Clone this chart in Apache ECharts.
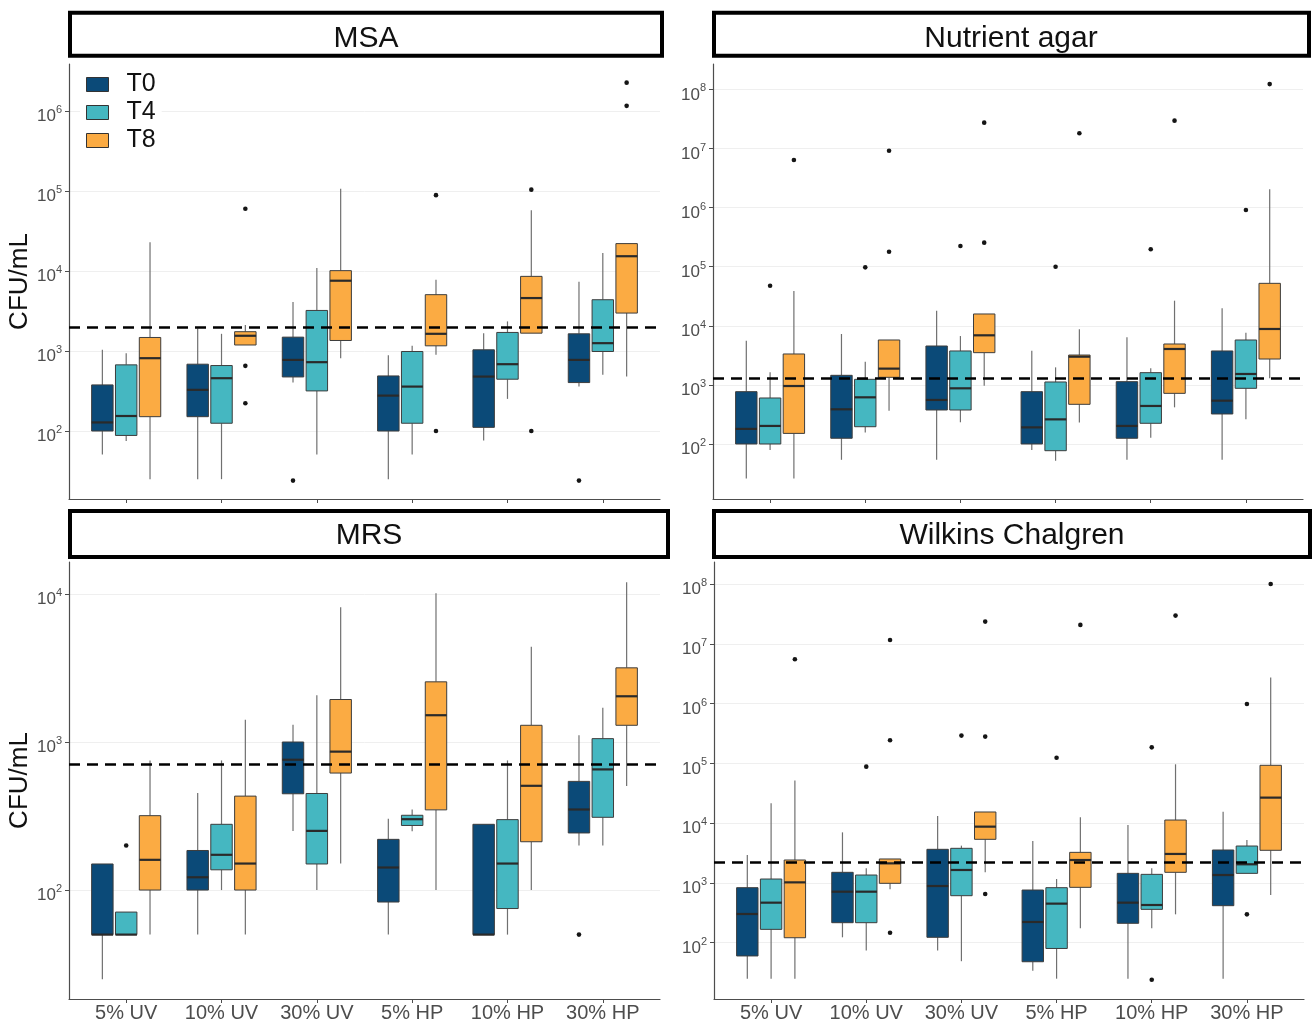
<!DOCTYPE html>
<html>
<head>
<meta charset="utf-8">
<title>CFU/mL by medium</title>
<script src="https://cdn.jsdelivr.net/npm/echarts@6.0.0/dist/echarts.min.js"></script>
<style>
    html, body { margin: 0; padding: 0; background: #fff; }
    #main { width: 1312px; height: 1024px; }
</style>
</head>
<body>
<div id="main"></div>
<script>
var categories = ['5% UV', '10% UV', '30% UV', '5% HP', '10% HP', '30% HP'];
var times = ['T0', 'T4', 'T8'];
var timeColors = ['#0b4a78', '#45b7c1', '#fbab43'];
var panelTitles = ['MSA', 'Nutrient agar', 'MRS', 'Wilkins Chalgren'];
var cutoffs = [2000, 1300, 700, 2200];

// decade exponents labelled on each y axis
var msaTicks = [2, 3, 4, 5, 6];
var nutTicks = [2, 3, 4, 5, 6, 7, 8];
var mrsTicks = [2, 3, 4];
var wilTicks = [2, 3, 4, 5, 6, 7, 8];

// boxes: [low whisker, Q1, median, Q3, high whisker] in CFU/mL, one per treatment
var msaT0 = [[51, 100, 128, 377, 1035], [25, 151, 327, 684, 1930], [403, 474, 774, 1490, 4090],
             [25, 100, 277, 488, 887], [76, 111, 479, 1035, 1671], [359, 403, 774, 1640, 7340]];
var msaT4 = [[75, 88, 154, 671, 940], [25, 125, 457, 658, 1640], [51, 317, 725, 3213, 10900],
             [51, 125, 359, 986, 1161], [252, 444, 684, 1706, 2344], [503, 986, 1253, 4375, 16800]];
var msaT8 = [[25, 151, 813, 1476, 22900], [1189, 1189, 1550, 1743, 2113], [813, 1353, 7560, 10100, 107000],
             [896, 1161, 1640, 5060, 7780], [1671, 1671, 4590, 8570, 57500], [479, 2980, 15300, 22000, 22000]];

var nutT0 = [[26, 100, 180, 768, 5600], [54, 125, 386, 1452, 7260], [54, 376, 556, 4550, 18000],
             [79, 100, 191, 768, 3790], [54, 125, 202, 1134, 6380], [54, 322, 541, 3750, 19800]];
var nutT4 = [[79, 100, 202, 600, 1633], [156, 196, 616, 1242, 2470], [233, 376, 875, 3750, 6710],
             [52, 77, 261, 1120, 1980], [128, 224, 440, 1610, 1907], [261, 875, 1529, 5750, 7660]];
var nutT8 = [[26, 151, 957, 3335, 38800], [366, 1343, 1884, 5750, 5750], [971, 3510, 6900, 15850, 15850],
             [230, 469, 3000, 3200, 8710], [417, 719, 4050, 4920, 26600], [1290, 2740, 8830, 52300, 2040000]];

var mrsT0 = [[25, 50, 50, 150, 150], [50, 100, 122, 185, 452], [251, 447, 759, 1000, 1310],
             [50, 83, 142, 220, 303], [50, 50, 50, 278, 278], [200, 243, 350, 542, 1110]];
var mrsT4 = [[50, 50, 50, 71, 71], [100, 137, 173, 278, 751], [100, 150, 251, 449, 2070],
             [250, 273, 301, 320, 350], [50, 75, 151, 299, 751], [200, 310, 653, 1054, 1706]];
var mrsT8 = [[50, 100, 160, 318, 751], [50, 100, 151, 431, 1416], [151, 617, 861, 1937, 8130],
             [100, 348, 1517, 2550, 10100], [100, 212, 506, 1297, 4400], [504, 1297, 2037, 3170, 12000]];

var wilT0 = [[25, 60, 302, 832, 2930], [123, 216, 713, 1503, 7010], [74, 123, 887, 3645, 13150],
             [34, 48, 222, 760, 5020], [25, 211, 467, 1445, 9310], [25, 416, 1355, 3550, 15570]];
var wilT4 = [[25, 167, 467, 1161, 21400], [74, 216, 713, 1355, 1754], [49, 611, 1645, 3790, 4200],
             [25, 80, 450, 832, 1161], [174, 361, 427, 1390, 1754], [1445, 1445, 2048, 4140, 5220]];
var wilT8 = [[25, 121, 1021, 2415, 51400], [780, 984, 2123, 2513, 2513], [1503, 5360, 8730, 15350, 15350],
             [174, 843, 2415, 3245, 12500], [298, 1503, 3050, 11270, 96400], [628, 3510, 26700, 92700, 2720000]];

// outliers: [treatment index, CFU/mL]
var msaOutT0 = [[2, 24], [5, 24]];
var msaOutT4 = [];
var msaOutT8 = [[1, 60000], [1, 652], [1, 222], [3, 88700], [3, 100], [4, 104000], [4, 100], [5, 2260000], [5, 1160000]];

var nutOutT0 = [];
var nutOutT4 = [[0, 47700], [1, 97500], [2, 224000], [3, 100000], [4, 197000], [5, 910000]];
var nutOutT8 = [[0, 6380000], [1, 9180000], [1, 179000], [2, 27400000], [2, 255000], [3, 18100000], [4, 29600000], [5, 123000000]];

var mrsOutT0 = [[5, 50]];
var mrsOutT4 = [[0, 200]];
var mrsOutT8 = [];

var wilOutT0 = [];
var wilOutT4 = [[1, 88100], [2, 291000], [3, 124000], [4, 185000], [4, 24], [5, 984000], [5, 298]];
var wilOutT8 = [[0, 5500000], [1, 11600000], [1, 243000], [1, 147], [2, 23500000], [2, 280000], [2, 652], [3, 20700000], [4, 29600000], [5, 100000000]];

var panelBoxes = [[msaT0, msaT4, msaT8], [nutT0, nutT4, nutT8], [mrsT0, mrsT4, mrsT8], [wilT0, wilT4, wilT8]];
var panelOutliers = [[msaOutT0, msaOutT4, msaOutT8], [nutOutT0, nutOutT4, nutOutT8],
                     [mrsOutT0, mrsOutT4, mrsOutT8], [wilOutT0, wilOutT4, wilOutT8]];
var panelTicks = [msaTicks, nutTicks, mrsTicks, wilTicks];

// layout (pixels) and log10 axis ranges
var grids = [
    {left: 69, top: 64, width: 591, height: 435},
    {left: 713, top: 64, width: 590, height: 435},
    {left: 69, top: 562, width: 591, height: 437},
    {left: 714, top: 562, width: 590, height: 437}
];
var yRanges = [[1.15, 6.5875], [1.069, 8.43], [1.264, 4.216], [1.058, 8.368]];
var strips = [
    {x: 70, y: 12.7, w: 592, h: 43, tx: 366, ty: 38.5},
    {x: 714, y: 12.7, w: 595, h: 43, tx: 1011, ty: 39},
    {x: 70, y: 511, w: 598, h: 46, tx: 369, ty: 536},
    {x: 714, y: 511, w: 596, h: 46, tx: 1012, ty: 536}
];

var FONT = '"Liberation Sans", Arial, sans-serif';
var catTicks = categories.map(function (c, i) { return i + 1; });

function boxRender(dodge) {
    return function (params, api) {
        var x = api.value(0);
        var unit = api.size([1, 0])[0];
        var cx = api.coord([x, api.value(3)])[0] + dodge * 0.25 * unit;
        var hw = 0.225 * unit / 2;
        var yLow = api.coord([x, api.value(1)])[1];
        var yQ1 = api.coord([x, api.value(2)])[1];
        var yMed = api.coord([x, api.value(3)])[1];
        var yQ3 = api.coord([x, api.value(4)])[1];
        var yHigh = api.coord([x, api.value(5)])[1];
        var whisker = {stroke: '#707070', lineWidth: 1.2};
        return {
            type: 'group',
            children: [
                {type: 'line', shape: {x1: cx, y1: yHigh, x2: cx, y2: yQ3}, style: whisker},
                {type: 'line', shape: {x1: cx, y1: yQ1, x2: cx, y2: yLow}, style: whisker},
                {type: 'rect', shape: {x: cx - hw, y: yQ3, width: hw * 2, height: Math.max(yQ1 - yQ3, 0.5)},
                    style: {fill: api.visual('color'), stroke: '#3d3d3d', lineWidth: 1}},
                {type: 'line', shape: {x1: cx - hw, y1: yMed, x2: cx + hw, y2: yMed},
                    style: {stroke: '#2a2a2a', lineWidth: 2.2}}
            ]
        };
    };
}

function outlierRender(dodge) {
    return function (params, api) {
        var unit = api.size([1, 0])[0];
        var p = api.coord([api.value(0), api.value(1)]);
        return {
            type: 'circle',
            shape: {cx: p[0] + dodge * 0.25 * unit, cy: p[1], r: 2.3},
            style: {fill: '#151515'}
        };
    };
}

var xAxes = [], yAxes = [], series = [], graphics = [];

grids.forEach(function (g, p) {
    xAxes.push({
        type: 'value', gridIndex: p, min: 0.4, max: 6.6,
        axisLine: {show: true, lineStyle: {color: '#4d4d4d', width: 1.2}},
        axisTick: {show: true, customValues: catTicks, length: 4, lineStyle: {color: '#4d4d4d'}},
        axisLabel: {
            show: p >= 2, customValues: catTicks, margin: 4,
            fontSize: 20, color: '#4d4d4d', fontFamily: FONT,
            formatter: function (v) { return categories[Math.round(v) - 1]; }
        },
        splitLine: {show: false}
    });
    yAxes.push({
        type: 'value', gridIndex: p, min: yRanges[p][0], max: yRanges[p][1],
        name: p % 2 === 0 ? 'CFU/mL' : '',
        nameLocation: 'middle', nameGap: 36,
        nameTextStyle: {fontSize: 26, color: '#111', fontFamily: FONT},
        axisLine: {show: true, lineStyle: {color: '#4d4d4d', width: 1.2}},
        axisTick: {show: true, customValues: panelTicks[p], length: 4, lineStyle: {color: '#4d4d4d'}},
        axisLabel: {
            customValues: panelTicks[p], margin: 7,
            formatter: function (v) { return '{b|10}{s|' + v + '}'; },
            rich: {
                b: {fontSize: 17, color: '#4d4d4d', fontFamily: FONT, padding: [11, 0, 0, 0]},
                s: {fontSize: 11, color: '#4d4d4d', fontFamily: FONT, padding: [0, 0, 2, 0]}
            }
        },
        splitLine: {show: true, lineStyle: {color: '#efefef', width: 1}}
    });

    times.forEach(function (t, k) {
        series.push({
            type: 'custom', name: t, xAxisIndex: p, yAxisIndex: p,
            itemStyle: {color: timeColors[k]},
            renderItem: boxRender(k - 1),
            encode: {x: 0, y: [1, 2, 3, 4, 5]},
            data: panelBoxes[p][k].map(function (b, i) {
                return [i + 1].concat(b.map(function (v) { return Math.log10(v); }));
            })
        });
    });
    times.forEach(function (t, k) {
        var s = {
            type: 'custom', name: t + ' outliers', xAxisIndex: p, yAxisIndex: p,
            renderItem: outlierRender(k - 1),
            encode: {x: 0, y: 1},
            data: panelOutliers[p][k].map(function (o) { return [o[0] + 1, Math.log10(o[1])]; })
        };
        if (k === 2) {
            s.markLine = {
                silent: true, symbol: 'none', label: {show: false},
                lineStyle: {color: '#000', type: [11, 7], width: 2.5},
                data: [{yAxis: Math.log10(cutoffs[p])}]
            };
        }
        series.push(s);
    });

    var st = strips[p];
    graphics.push({
        type: 'rect', shape: {x: st.x, y: st.y, width: st.w, height: st.h},
        style: {fill: '#fff', stroke: '#000', lineWidth: 4}
    });
    graphics.push({
        type: 'text', x: st.tx, y: st.ty,
        style: {text: panelTitles[p], fontSize: 30, fill: '#111', fontFamily: FONT,
            align: 'center', verticalAlign: 'middle'}
    });
});

var chart = echarts.init(document.getElementById('main'));
chart.setOption({
    animation: false,
    backgroundColor: '#fff',
    textStyle: {fontFamily: FONT},
    grid: grids,
    xAxis: xAxes,
    yAxis: yAxes,
    legend: {
        data: times, orient: 'vertical', left: 80, top: 68,
        icon: 'rect', itemWidth: 22, itemHeight: 14, itemGap: 3,
        backgroundColor: '#fff', padding: [4, 6],
        itemStyle: {borderColor: '#333', borderWidth: 1},
        textStyle: {fontSize: 25, color: '#111', fontFamily: FONT, lineHeight: 25, padding: [0, 0, 0, 13]}
    },
    graphic: graphics,
    series: series
});
</script>
</body>
</html>
